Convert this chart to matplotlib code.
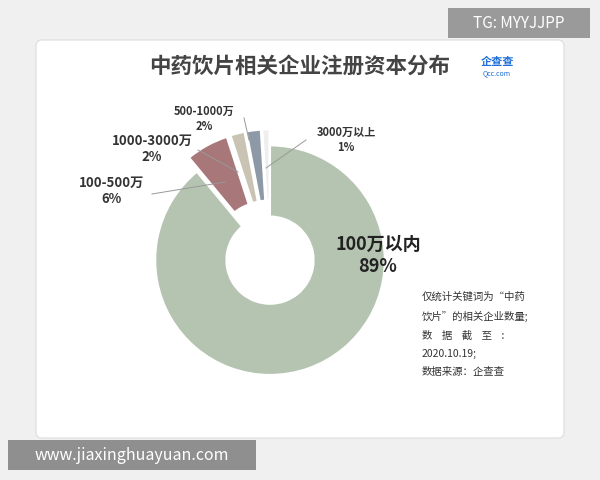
import matplotlib
matplotlib.use("Agg")
import matplotlib.pyplot as plt
from matplotlib.patches import FancyBboxPatch, Rectangle

plt.rcParams['font.family'] = ['Noto Sans CJK SC', 'DejaVu Sans']

labels = ['100万以内', '100-500万', '1000-3000万', '500-1000万', '3000万以上']
values = [89, 6, 2, 2, 1]
pct_labels = ['89%', '6%', '2%', '2%', '1%']
colors = ['#b5c4b1', '#a8777a', '#c9c3b4', '#8e99a8', '#eeeeee']
explode = [0, 0.14, 0.14, 0.14, 0.14]

fig = plt.figure(figsize=(6, 4.8), dpi=100)
fig.patch.set_facecolor('#f0f0f0')
bg = fig.add_axes([0, 0, 1, 1]); bg.set_axis_off(); bg.set_xlim(0, 600); bg.set_ylim(480, 0)
bg.add_patch(FancyBboxPatch((36, 40), 528, 398, boxstyle="round,pad=0,rounding_size=6",
                            fc='white', ec='#dddddd', lw=0.8))

ax = fig.add_axes([0.23, 0.183, 0.44, 0.55])
ax.pie(values, colors=colors, explode=explode, startangle=90, counterclock=False,
       wedgeprops=dict(width=0.62, edgecolor='white', linewidth=1.5))
ax.set_aspect('equal')
ax.set_xlim(-1.15, 1.15); ax.set_ylim(-1.15, 1.15)

ov = fig.add_axes([0, 0, 1, 1]); ov.set_axis_off(); ov.set_xlim(0, 600); ov.set_ylim(480, 0)
ov.patch.set_alpha(0)
ov.text(300, 66, '中药饮片相关企业注册资本分布', ha='center', va='center', fontsize=15.5,
        fontweight='bold', color='#444444')
ov.text(497, 61, '企查查', fontsize=8, color='#1e6fd9', va='center', ha='center', fontweight='bold')
ov.text(497, 73, 'Qcc.com', fontsize=5, color='#1e6fd9', va='center', ha='center')
ov.add_patch(Rectangle((448, 8), 142, 30, fc='#9a9a9a', ec='none'))
ov.text(519, 23, 'TG: MYYJJPP', fontsize=11, color='white', ha='center', va='center')
ov.add_patch(Rectangle((8, 440), 248, 30, fc='#8f8f8f', ec='none'))
ov.text(132, 455, 'www.jiaxinghuayuan.com', fontsize=11.5, color='white', ha='center', va='center')
note = '仅统计关键词为“中药\n饮片”的相关企业数量;\n数    据    截    至    :\n2020.10.19;\n数据来源：企查查'
ov.text(422, 292, note, fontsize=7.5, color='#333333', va='top', ha='left', linespacing=2.0)

ov.text(378, 255, labels[0] + '\n' + pct_labels[0], fontsize=13, fontweight='bold', color='#222222',
        ha='center', va='center', linespacing=1.2)
ov.text(112, 191, labels[1] + '\n' + pct_labels[1], fontsize=9.5, fontweight='bold', color='#333333', ha='center', va='center')
ov.text(152, 149, labels[2] + '\n' + pct_labels[2], fontsize=9.5, fontweight='bold', color='#333333', ha='center', va='center')
ov.text(204, 119, labels[3] + '\n' + pct_labels[3], fontsize=8, fontweight='bold', color='#333333', ha='center', va='center')
ov.text(346, 140, labels[4] + '\n' + pct_labels[4], fontsize=8, fontweight='bold', color='#333333', ha='center', va='center')
lc = '#999999'
ov.plot([152, 225], [194, 182], color=lc, lw=0.7)
ov.plot([198, 238], [150, 172], color=lc, lw=0.7)
ov.plot([244, 249], [118, 140], color=lc, lw=0.7)
ov.plot([306, 266], [140, 168], color=lc, lw=0.7)
fig.savefig('out.png', dpi=100, facecolor=fig.get_facecolor())
